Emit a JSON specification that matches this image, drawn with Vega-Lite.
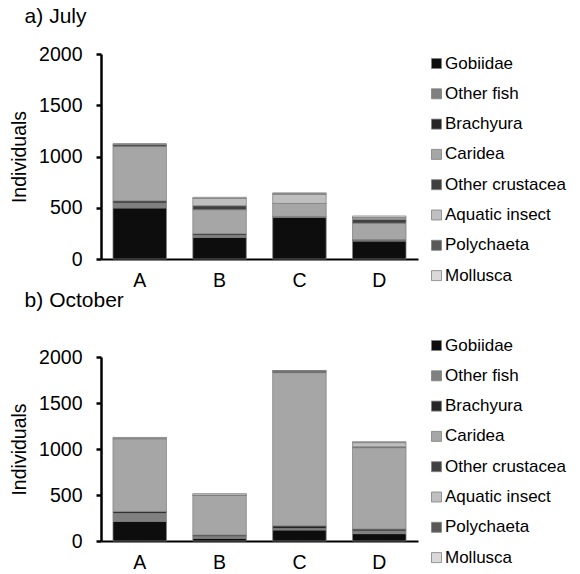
{
  "$schema": "https://vega.github.io/schema/vega-lite/v6.json",
  "padding": {"left": 9, "top": 6, "right": 5, "bottom": 0},
  "config": {
    "font": "Liberation Sans",
    "view": {"stroke": null},
    "axis": {"labelColor": "#000000", "titleColor": "#000000", "grid": false, "labelFontSize": 19.5, "titleFontSize": 19.5, "titleFontWeight": "normal"},
    "axisY": {"domainColor": "#000000", "domainWidth": 2.5, "tickColor": "#000000", "tickWidth": 2.5, "tickSize": 5, "labelPadding": 14, "titlePadding": 9, "values": [0, 500, 1000, 1500, 2000], "format": "d"},
    "axisX": {"domainColor": "#000000", "domainWidth": 2, "ticks": false, "labelAngle": 0, "labelPadding": 12, "title": null},
    "legend": {"labelFontSize": 17, "labelColor": "#000000", "symbolType": "square", "symbolSize": 100, "symbolStrokeColor": "#808080", "symbolStrokeWidth": 0.8, "rowPadding": 12.3, "labelOffset": 0, "title": null, "orient": "none"},
    "title": {"fontSize": 21, "fontWeight": "normal", "color": "#000000", "anchor": "start", "frame": "bounds"}
  },
  "data": {"values": [
    {"month": "July", "site": "A", "taxon": "Gobiidae", "rank": 1, "n": 498},
    {"month": "July", "site": "A", "taxon": "Other fish", "rank": 2, "n": 49},
    {"month": "July", "site": "A", "taxon": "Brachyura", "rank": 3, "n": 20},
    {"month": "July", "site": "A", "taxon": "Caridea", "rank": 4, "n": 530},
    {"month": "July", "site": "A", "taxon": "Other crustacea", "rank": 5, "n": 18},
    {"month": "July", "site": "A", "taxon": "Aquatic insect", "rank": 6, "n": 5},
    {"month": "July", "site": "A", "taxon": "Polychaeta", "rank": 7, "n": 0},
    {"month": "July", "site": "A", "taxon": "Mollusca", "rank": 8, "n": 3},
    {"month": "July", "site": "B", "taxon": "Gobiidae", "rank": 1, "n": 212},
    {"month": "July", "site": "B", "taxon": "Other fish", "rank": 2, "n": 20},
    {"month": "July", "site": "B", "taxon": "Brachyura", "rank": 3, "n": 15},
    {"month": "July", "site": "B", "taxon": "Caridea", "rank": 4, "n": 234},
    {"month": "July", "site": "B", "taxon": "Other crustacea", "rank": 5, "n": 39},
    {"month": "July", "site": "B", "taxon": "Aquatic insect", "rank": 6, "n": 72},
    {"month": "July", "site": "B", "taxon": "Polychaeta", "rank": 7, "n": 0},
    {"month": "July", "site": "B", "taxon": "Mollusca", "rank": 8, "n": 10},
    {"month": "July", "site": "C", "taxon": "Gobiidae", "rank": 1, "n": 407},
    {"month": "July", "site": "C", "taxon": "Other fish", "rank": 2, "n": 8},
    {"month": "July", "site": "C", "taxon": "Brachyura", "rank": 3, "n": 0},
    {"month": "July", "site": "C", "taxon": "Caridea", "rank": 4, "n": 127},
    {"month": "July", "site": "C", "taxon": "Other crustacea", "rank": 5, "n": 0},
    {"month": "July", "site": "C", "taxon": "Aquatic insect", "rank": 6, "n": 90},
    {"month": "July", "site": "C", "taxon": "Polychaeta", "rank": 7, "n": 8},
    {"month": "July", "site": "C", "taxon": "Mollusca", "rank": 8, "n": 5},
    {"month": "July", "site": "D", "taxon": "Gobiidae", "rank": 1, "n": 175},
    {"month": "July", "site": "D", "taxon": "Other fish", "rank": 2, "n": 5},
    {"month": "July", "site": "D", "taxon": "Brachyura", "rank": 3, "n": 10},
    {"month": "July", "site": "D", "taxon": "Caridea", "rank": 4, "n": 160},
    {"month": "July", "site": "D", "taxon": "Other crustacea", "rank": 5, "n": 35},
    {"month": "July", "site": "D", "taxon": "Aquatic insect", "rank": 6, "n": 15},
    {"month": "July", "site": "D", "taxon": "Polychaeta", "rank": 7, "n": 5},
    {"month": "July", "site": "D", "taxon": "Mollusca", "rank": 8, "n": 15},
    {"month": "October", "site": "A", "taxon": "Gobiidae", "rank": 1, "n": 214},
    {"month": "October", "site": "A", "taxon": "Other fish", "rank": 2, "n": 87},
    {"month": "October", "site": "A", "taxon": "Brachyura", "rank": 3, "n": 20},
    {"month": "October", "site": "A", "taxon": "Caridea", "rank": 4, "n": 790},
    {"month": "October", "site": "A", "taxon": "Other crustacea", "rank": 5, "n": 5},
    {"month": "October", "site": "A", "taxon": "Aquatic insect", "rank": 6, "n": 0},
    {"month": "October", "site": "A", "taxon": "Polychaeta", "rank": 7, "n": 0},
    {"month": "October", "site": "A", "taxon": "Mollusca", "rank": 8, "n": 10},
    {"month": "October", "site": "B", "taxon": "Gobiidae", "rank": 1, "n": 30},
    {"month": "October", "site": "B", "taxon": "Other fish", "rank": 2, "n": 20},
    {"month": "October", "site": "B", "taxon": "Brachyura", "rank": 3, "n": 15},
    {"month": "October", "site": "B", "taxon": "Caridea", "rank": 4, "n": 435},
    {"month": "October", "site": "B", "taxon": "Other crustacea", "rank": 5, "n": 0},
    {"month": "October", "site": "B", "taxon": "Aquatic insect", "rank": 6, "n": 0},
    {"month": "October", "site": "B", "taxon": "Polychaeta", "rank": 7, "n": 0},
    {"month": "October", "site": "B", "taxon": "Mollusca", "rank": 8, "n": 15},
    {"month": "October", "site": "C", "taxon": "Gobiidae", "rank": 1, "n": 120},
    {"month": "October", "site": "C", "taxon": "Other fish", "rank": 2, "n": 15},
    {"month": "October", "site": "C", "taxon": "Brachyura", "rank": 3, "n": 30},
    {"month": "October", "site": "C", "taxon": "Caridea", "rank": 4, "n": 1665},
    {"month": "October", "site": "C", "taxon": "Other crustacea", "rank": 5, "n": 20},
    {"month": "October", "site": "C", "taxon": "Aquatic insect", "rank": 6, "n": 0},
    {"month": "October", "site": "C", "taxon": "Polychaeta", "rank": 7, "n": 0},
    {"month": "October", "site": "C", "taxon": "Mollusca", "rank": 8, "n": 0},
    {"month": "October", "site": "D", "taxon": "Gobiidae", "rank": 1, "n": 80},
    {"month": "October", "site": "D", "taxon": "Other fish", "rank": 2, "n": 30},
    {"month": "October", "site": "D", "taxon": "Brachyura", "rank": 3, "n": 20},
    {"month": "October", "site": "D", "taxon": "Caridea", "rank": 4, "n": 885},
    {"month": "October", "site": "D", "taxon": "Other crustacea", "rank": 5, "n": 10},
    {"month": "October", "site": "D", "taxon": "Aquatic insect", "rank": 6, "n": 45},
    {"month": "October", "site": "D", "taxon": "Polychaeta", "rank": 7, "n": 0},
    {"month": "October", "site": "D", "taxon": "Mollusca", "rank": 8, "n": 10}
  ]},
  "spacing": 0,
  "vconcat": [
    {
      "title": {"text": "a) July", "dx": 15, "offset": 17},
      "transform": [{"filter": "datum.month == 'July'"}],
      "width": 317,
      "height": 205,
      "mark": {"type": "bar", "stroke": "#808080", "strokeWidth": 0.75},
      "encoding": {
        "x": {"field": "site", "type": "nominal", "scale": {"paddingInner": 0.33, "paddingOuter": 0.15}},
        "y": {"field": "n", "type": "quantitative", "aggregate": "sum", "stack": "zero", "title": "Individuals", "scale": {"domain": [0, 2000]}},
        "order": {"field": "rank", "type": "quantitative", "aggregate": "min"},
        "color": {"field": "taxon", "type": "nominal",
          "sort": ["Gobiidae", "Other fish", "Brachyura", "Caridea", "Other crustacea", "Aquatic insect", "Polychaeta", "Mollusca"],
          "scale": {"domain": ["Gobiidae", "Other fish", "Brachyura", "Caridea", "Other crustacea", "Aquatic insect", "Polychaeta", "Mollusca"],
                    "range": ["#0d0d0d", "#808080", "#262626", "#a6a6a6", "#404040", "#bfbfbf", "#595959", "#d9d9d9"]},
          "legend": {"legendX": 327, "legendY": 1}}
      }
    },
    {
      "title": {"text": "b) October", "dx": 15, "offset": 26},
      "transform": [{"filter": "datum.month == 'October'"}],
      "width": 317,
      "height": 184,
      "mark": {"type": "bar", "stroke": "#808080", "strokeWidth": 0.75},
      "encoding": {
        "x": {"field": "site", "type": "nominal", "scale": {"paddingInner": 0.33, "paddingOuter": 0.15}},
        "y": {"field": "n", "type": "quantitative", "aggregate": "sum", "stack": "zero", "title": "Individuals", "scale": {"domain": [0, 2000]}},
        "order": {"field": "rank", "type": "quantitative", "aggregate": "min"},
        "color": {"field": "taxon", "type": "nominal",
          "sort": ["Gobiidae", "Other fish", "Brachyura", "Caridea", "Other crustacea", "Aquatic insect", "Polychaeta", "Mollusca"],
          "scale": {"domain": ["Gobiidae", "Other fish", "Brachyura", "Caridea", "Other crustacea", "Aquatic insect", "Polychaeta", "Mollusca"],
                    "range": ["#0d0d0d", "#808080", "#262626", "#a6a6a6", "#404040", "#bfbfbf", "#595959", "#d9d9d9"]},
          "legend": {"legendX": 327, "legendY": -20}}
      }
    }
  ],
  "resolve": {"scale": {"color": "independent"}, "legend": {"color": "independent"}}
}
